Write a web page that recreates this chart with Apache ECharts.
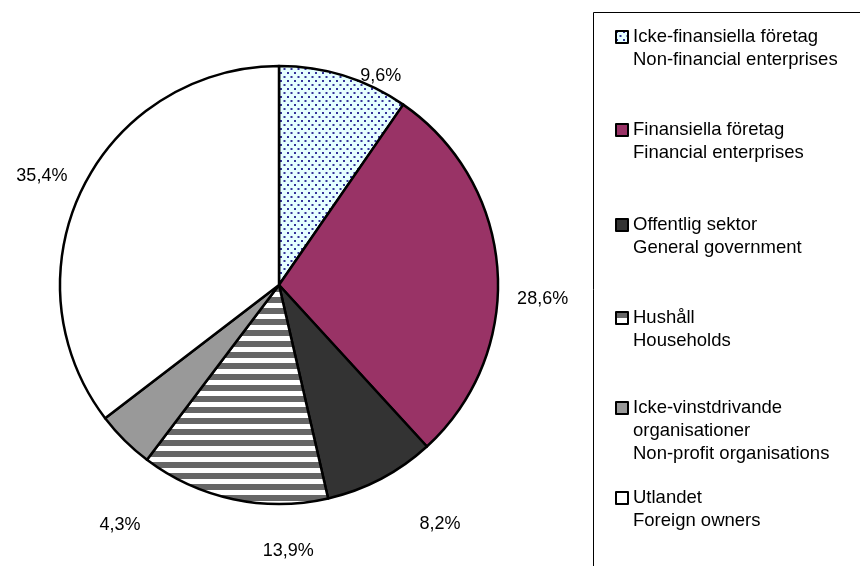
<!DOCTYPE html>
<html>
<head>
<meta charset="utf-8">
<script src="https://cdn.jsdelivr.net/npm/echarts@6/dist/echarts.min.js"></script>
<style>
  html, body { margin: 0; padding: 0; background: #fff; }
  #chart { width: 860px; height: 566px; }
</style>
</head>
<body>
<div id="chart"></div>
<script>
// sectors, clockwise from 12 o'clock
const categories = [
  'Icke-finansiella företag\nNon-financial enterprises',
  'Finansiella företag\nFinancial enterprises',
  'Offentlig sektor\nGeneral government',
  'Hushåll\nHouseholds',
  'Icke-vinstdrivande\norganisationer\nNon-profit organisations',
  'Utlandet\nForeign owners'
];
const shares = [9.6, 28.6, 8.2, 13.9, 4.3, 35.4];

// layout: where the percent labels sit (degrees from top, px from centre)
const labelAngle = [26, 93, 146, 178, 213.5, 294.7];
const labelDist = [232, 264, 288, 266, 288, 261];
// legend: y of the first text line of each entry
const legendLineY = [37, 130, 225, 318, 408, 498];

const CX = 279, CY = 285, R = 219;
const FONT = '"Liberation Sans", Arial, sans-serif';
const LINE_H = 23;

function dotPattern() {
  const c = document.createElement('canvas');
  c.width = 7; c.height = 8;
  const g = c.getContext('2d');
  g.fillStyle = '#e6ffff';
  g.fillRect(0, 0, 7, 8);
  g.fillStyle = '#333399';
  g.fillRect(0, 0, 2, 2);
  g.fillRect(3.5, 4, 2, 2);
  return { image: c, repeat: 'repeat' };
}

function stripePattern() {
  const c = document.createElement('canvas');
  c.width = 4; c.height = 11;
  const g = c.getContext('2d');
  g.fillStyle = '#ffffff';
  g.fillRect(0, 0, 4, 11);
  g.fillStyle = '#666666';
  g.fillRect(0, 0, 4, 6);
  return { image: c, repeat: 'repeat' };
}

const fills = [dotPattern(), '#993366', '#333333', stripePattern(), '#999999', '#ffffff'];

const chart = echarts.init(document.getElementById('chart'), null, { renderer: 'canvas' });

// legend text is centred on the icon, so pad with blank lines above
// to put the first line level with the icon
const legends = categories.map((name, i) => {
  const lines = name.split('\n').length;
  return {
    data: [name],
    orient: 'vertical',
    left: 615,
    top: legendLineY[i] - (2 * lines - 1) * LINE_H / 2,
    padding: 0,
    icon: 'rect',
    itemWidth: 12,
    itemHeight: 12,
    selectedMode: false,
    formatter: n => '\n'.repeat(lines - 1) + n,
    itemStyle: { borderColor: '#000', borderWidth: 2 },
    textStyle: {
      fontFamily: FONT,
      fontSize: 18.5,
      color: '#000',
      lineHeight: LINE_H
    }
  };
});

chart.setOption({
  animation: false,
  backgroundColor: '#fff',
  legend: legends,
  graphic: [{
    type: 'rect',
    shape: { x: 593.5, y: 12.5, width: 400, height: 700 },
    style: { fill: 'none', stroke: '#000', lineWidth: 1 },
    silent: true
  }],
  series: [{
    type: 'pie',
    center: [CX, CY],
    radius: R,
    startAngle: 90,
    clockwise: true,
    avoidLabelOverlap: false,
    silent: true,
    itemStyle: { borderColor: '#000', borderWidth: 2.5 },
    label: {
      show: true,
      position: 'outside',
      fontFamily: FONT,
      fontSize: 18,
      color: '#000',
      formatter: p => p.value.toFixed(1).replace('.', ',') + '%'
    },
    labelLine: { show: false },
    labelLayout: params => {
      const a = labelAngle[params.dataIndex] * Math.PI / 180;
      const d = labelDist[params.dataIndex];
      return {
        x: CX + d * Math.sin(a),
        y: CY - d * Math.cos(a),
        align: 'center',
        verticalAlign: 'middle'
      };
    },
    data: categories.map((name, i) => ({
      name: name,
      value: shares[i],
      itemStyle: { color: fills[i] }
    }))
  }]
});
</script>
</body>
</html>
